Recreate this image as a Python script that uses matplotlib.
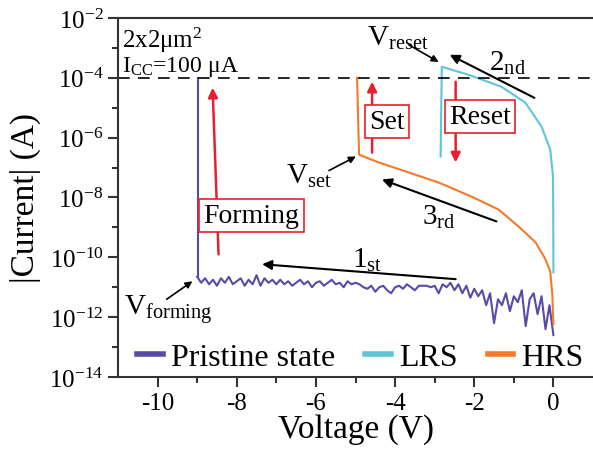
import numpy as np
import matplotlib
matplotlib.use("Agg")
import matplotlib.pyplot as plt
from matplotlib.ticker import FixedLocator, FixedFormatter

plt.rcParams['font.family'] = ['Liberation Serif', 'DejaVu Serif']
plt.rcParams['mathtext.fontset'] = 'custom'
plt.rcParams['mathtext.rm'] = 'Liberation Serif'
plt.rcParams['mathtext.it'] = 'Liberation Serif:italic'
plt.rcParams['axes.unicode_minus'] = False

# pristine sweep 0 -> -9 V (log10 of current), forming jump at -9 V
pristine_v = [-9.0, -8.9, -8.8, -8.7, -8.6, -8.5, -8.4, -8.3, -8.2, -8.1, -8.0,
              -7.9, -7.8, -7.7, -7.6, -7.5, -7.4, -7.3, -7.2, -7.1, -7.0,
              -6.9, -6.8, -6.7, -6.6, -6.5, -6.4, -6.3, -6.2, -6.1, -6.0,
              -5.9, -5.8, -5.7, -5.6, -5.5, -5.4, -5.3, -5.2, -5.1, -5.0,
              -4.9, -4.8, -4.7, -4.6, -4.5, -4.4, -4.3, -4.2, -4.1, -4.0,
              -3.9, -3.8, -3.7, -3.6, -3.5, -3.4, -3.3, -3.2, -3.1, -3.0,
              -2.9, -2.8, -2.7, -2.6, -2.5, -2.4, -2.3, -2.2, -2.1, -2.0,
              -1.9, -1.8, -1.7, -1.6, -1.5, -1.4, -1.3, -1.2, -1.1, -1.0,
              -0.9, -0.8, -0.7, -0.6, -0.5, -0.4, -0.3, -0.2, -0.1, 0.0]
pristine_log = [-10.65, -10.85, -10.7, -10.9, -10.75, -10.95, -10.7, -10.85, -10.65, -10.9, -10.8,
                -10.7, -10.95, -10.75, -10.9, -10.6, -10.95, -10.7, -10.85, -10.75, -10.9,
                -10.75, -10.9, -10.8, -10.95, -10.85, -10.75, -10.9, -10.8, -11.0, -10.85,
                -10.8, -10.95, -10.85, -10.75, -10.9, -10.85, -11.0, -10.8, -10.9, -10.85,
                -10.9, -11.0, -11.05, -10.95, -11.15, -11.0, -10.95, -11.1, -11.2, -11.0,
                -10.95, -11.05, -10.9, -11.0, -11.1, -10.95, -10.95, -10.95, -11.0, -10.95,
                -11.2, -10.9, -11.0, -10.85, -11.1, -10.9, -11.2, -10.95, -11.35, -11.05,
                -11.3, -11.1, -11.6, -11.2, -12.2, -11.4, -11.6, -11.2, -11.8, -11.3,
                -11.5, -11.1, -12.3, -11.4, -11.2, -11.9, -11.3, -12.4, -11.6, -12.6]
forming_v = [-8.98, -8.98]
forming_log = [-4.0, -10.65]

# LRS: reset sweep (from 0 V to Vreset, then abrupt drop)
lrs_v = [0.0, -0.005, -0.01, -0.08, -0.3, -0.71, -1.31, -2.14, -2.82, -2.85]
lrs_log = [-10.5, -8.5, -7.3, -6.4, -5.63, -4.83, -4.3, -3.9, -3.63, -6.63]

# HRS: set sweep (from 0 V to Vset, then jump to compliance)
hrs_v = [0.0, -0.03, -0.08, -0.2, -0.45, -0.88, -1.39, -2.07, -2.9, -3.73, -4.41, -4.91, -4.96]
hrs_log = [-12.23, -11.2, -10.47, -10.07, -9.5, -8.97, -8.4, -7.97, -7.5, -7.13, -6.83, -6.57, -4.0]

purple = '#5a4aa6'
cyan = '#5ec6d6'
orange = '#f27a2a'
red = '#e8202e'

fig = plt.figure(figsize=(5.93, 4.52), dpi=100)
ax = fig.add_axes([0.199, 0.1637, 0.801, 0.7943])

ax.plot(pristine_v, 10 ** np.array(pristine_log), color=purple, lw=1.5, label='Pristine state')
ax.plot(forming_v, 10 ** np.array(forming_log), color=purple, lw=1.5)
ax.plot(lrs_v, 10 ** np.array(lrs_log), color=cyan, lw=1.5, label='LRS')
ax.plot(hrs_v, 10 ** np.array(hrs_log), color=orange, lw=1.5, label='HRS')

ax.axhline(1e-4, color='black', lw=1.2, dashes=(7, 5))

ax.set_yscale('log')
ax.set_xlim(-11, 1)
ax.set_ylim(1e-14, 1e-2)

ax.xaxis.set_major_locator(FixedLocator([-10, -8, -6, -4, -2, 0]))
ax.xaxis.set_minor_locator(FixedLocator([-9, -7, -5, -3, -1]))
ymaj = [1e-14, 1e-12, 1e-10, 1e-8, 1e-6, 1e-4, 1e-2]
ax.yaxis.set_major_locator(FixedLocator(ymaj))
ax.yaxis.set_major_formatter(FixedFormatter(
    [r'$\mathregular{10^{-%d}}$' % k for k in [14, 12, 10, 8, 6, 4, 2]]))
ax.yaxis.set_minor_locator(FixedLocator([1e-13, 1e-11, 1e-9, 1e-7, 1e-5, 1e-3]))
ax.yaxis.set_minor_formatter(FixedFormatter([''] * 6))

ax.tick_params(which='both', direction='out', top=False, right=False, width=1.5, color='#333333')
ax.tick_params(which='major', length=7, labelsize=18)
ax.tick_params(which='minor', length=4)
for side in ['left', 'bottom', 'top']:
    ax.spines[side].set_linewidth(1.5)
    ax.spines[side].set_color('#333333')
ax.spines['right'].set_visible(False)

ax.set_xlabel('Voltage (V)', fontsize=24, labelpad=0)
ax.set_ylabel('|Current| (A)', fontsize=24, labelpad=6)

# text annotations
ax.text(-10.9, 10 ** -2.73, r'2x2$\mathregular{\mu m^2}$', fontsize=18, ha='left', va='center')
ax.text(-10.9, 10 ** -3.6, r'I$\mathregular{_{CC}}$=100 $\mathregular{\mu}$A', fontsize=17, ha='left', va='center')

arrow_k = dict(arrowstyle='-|>', color='black', lw=1.5, mutation_scale=14, shrinkA=0, shrinkB=0)
small_k = dict(arrowstyle='-|>', color='black', lw=1.2, mutation_scale=10, shrinkA=0, shrinkB=0)
red_k = dict(arrowstyle='-|>', color=red, lw=1.8, mutation_scale=14, shrinkA=0, shrinkB=0)
box_k = dict(boxstyle='square,pad=0.15', fc='white', ec=red, lw=1.2)

ax.annotate('', xy=(-2.9, 10 ** -3.47), xytext=(-3.65, 10 ** -2.9), arrowprops=small_k)
ax.text(-4.72, 10 ** -2.65, r'V$\mathregular{_{reset}}$', fontsize=21, ha='left', va='center')

ax.annotate('', xy=(-2.62, 10 ** -3.23), xytext=(-0.48, 10 ** -4.67), arrowprops=arrow_k)
ax.text(-1.64, 10 ** -3.5, r'2$\mathregular{_{nd}}$', fontsize=21, ha='left', va='center')

ax.annotate('', xy=(-4.58, 10 ** -4.13), xytext=(-4.58, 10 ** -6.5), arrowprops=red_k)
ax.text(-4.2, 10 ** -5.47, 'Set', fontsize=20, ha='center', va='center', bbox=box_k)

ax.annotate('', xy=(-2.47, 10 ** -6.83), xytext=(-2.47, 10 ** -4.13), arrowprops=red_k)
ax.text(-1.86, 10 ** -5.3, 'Reset', fontsize=20, ha='center', va='center', bbox=box_k)

ax.annotate('', xy=(-4.99, 10 ** -6.63), xytext=(-5.67, 10 ** -7.1), arrowprops=small_k)
ax.text(-6.75, 10 ** -7.25, r'V$\mathregular{_{set}}$', fontsize=21, ha='left', va='center')

ax.annotate('', xy=(-4.33, 10 ** -7.4), xytext=(-1.44, 10 ** -8.8), arrowprops=arrow_k)
ax.text(-3.32, 10 ** -8.63, r'3$\mathregular{_{rd}}$', fontsize=21, ha='left', va='center')

ax.annotate('', xy=(-7.36, 10 ** -10.23), xytext=(-2.47, 10 ** -10.73), arrowprops=arrow_k)
ax.text(-5.1, 10 ** -10.07, r'1$\mathregular{_{st}}$', fontsize=21, ha='left', va='center')

ax.annotate('', xy=(-8.61, 10 ** -4.33), xytext=(-8.46, 10 ** -9.9), arrowprops=red_k)
ax.text(-7.63, 10 ** -8.6, 'Forming', fontsize=20, ha='center', va='center', bbox=box_k)

ax.annotate('', xy=(-9.12, 10 ** -10.8), xytext=(-9.77, 10 ** -11.4), arrowprops=small_k)
ax.text(-10.85, 10 ** -11.7, r'V$\mathregular{_{forming}}$', fontsize=21, ha='left', va='center')

leg = ax.legend(loc='lower left', bbox_to_anchor=(0.0, -0.04), ncol=3, frameon=False,
                fontsize=23, handlelength=0.8, handletextpad=0.25, columnspacing=0.95,
                borderaxespad=0.2)
for h in leg.legend_handles:
    h.set_linewidth(4)

fig.savefig('out.png', dpi=100)
